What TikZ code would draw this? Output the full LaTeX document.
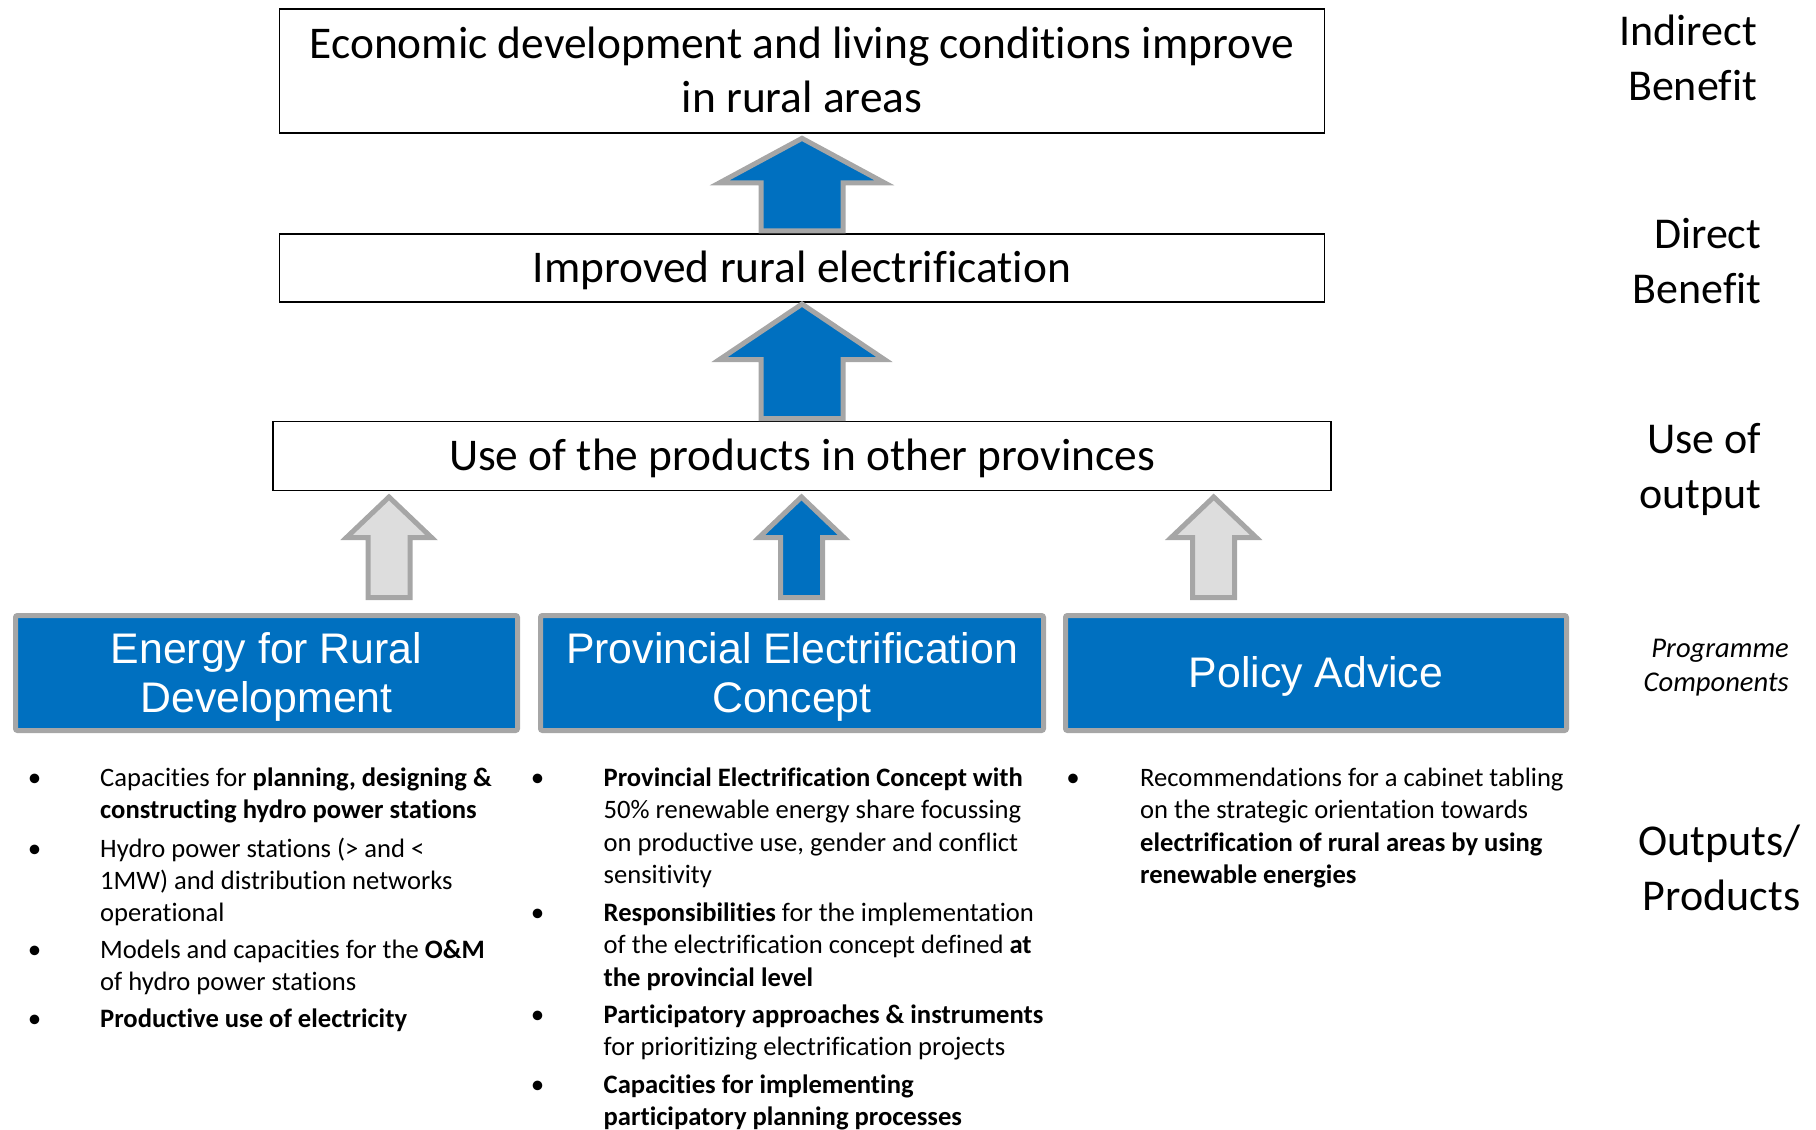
\documentclass[tikz,border=0pt]{standalone}
\usepackage{fontspec}
\setmainfont[Ligatures=NoCommon]{Carlito}
\newfontfamily\arialf{Liberation Sans}
\definecolor{gizblue}{HTML}{0070C0}
\definecolor{arrgray}{HTML}{A6A6A6}
\definecolor{lightgr}{HTML}{DDDDDD}
\newcommand\blockup[6]{%
  \draw[#1] (#2) ++(-#6,0) -- ++(0,-#3+#4) -- ++(-#5+#6,0) -- ++(#5,-#4) -- ++(#5,#4) -- ++(-#5+#6,0) -- ++(0,#3-#4) -- cycle;}
\begin{document}
\begin{tikzpicture}[x=1pt,y=-1pt,
  whitebox/.style={draw=black, line width=1.3pt, fill=white, inner sep=0pt},
  bluebox/.style={draw=arrgray, fill=gizblue, line width=5pt, rounded corners=2pt, inner sep=0pt},
  bluearr/.style={draw=arrgray, fill=gizblue, line width=5pt, line join=miter},
  grayarr/.style={draw=arrgray, fill=lightgr, line width=5pt, line join=miter},
  bigtext/.style={font=\fontsize{45.4}{54.5}\selectfont, inner sep=0pt, anchor=base},
  sidetext/.style={font=\fontsize{44}{55}\selectfont, inner sep=0pt, anchor=base east},
  comptext/.style={font=\arialf\fontsize{42.8}{49.5}\selectfont, text=white, inner sep=0pt, anchor=base},
  itemtext/.style={font=\fontsize{26.6}{32.3}\selectfont, inner sep=0pt, anchor=base west},
  bul/.style={font=\fontsize{27}{32.3}\selectfont, inner sep=0pt, anchor=base}
]
\useasboundingbox (0,0) rectangle (1816,1130);

% result boxes
\node[whitebox, minimum width=1045pt, minimum height=124pt] (b1) at (802,71) {};
\node[whitebox, minimum width=1045pt, minimum height=68pt] (b2) at (802,268) {};
\node[whitebox, minimum width=1058pt, minimum height=69pt] (b3) at (802,456) {};

\node[bigtext] (t1) at (802,58.3) {\parbox[t]{1100pt}{\centering Economic development and living conditions improve\\in rural areas}};
\node[bigtext] (t2) at (802,282.5) {Improved rural electrification};
\node[bigtext] (t3) at (802,470) {Use of the products in other provinces};

% component boxes
\node[bluebox, minimum width=502pt, minimum height=115pt] (c1) at (266.5,673) {};
\node[bluebox, minimum width=503pt, minimum height=115pt] (c2) at (792,673) {};
\node[bluebox, minimum width=501pt, minimum height=115pt] (c3) at (1316,673) {};

\node[comptext] (ct1) at (266.5,663) {\parbox[t]{500pt}{\centering Energy for Rural\\Development}};
\node[comptext] (ct2) at (792,663) {\parbox[t]{500pt}{\centering Provincial Electrification\\Concept}};
\node[comptext] (ct3) at (1316,687.3) {Policy Advice};

% arrows
\coordinate (a1) at ([yshift=2.5pt]b2.north);
\coordinate (a2) at ([yshift=2.3pt]b3.north);
\blockup{bluearr}{a1}{92.5}{44.5}{82.5}{41}
\blockup{bluearr}{a2}{114.5}{55.5}{82.5}{41}
\coordinate (s1) at (389,597.5);
\coordinate (s2) at (801.5,597.5);
\coordinate (s3) at (1213.7,597.5);
\blockup{grayarr}{s1}{100.5}{40.5}{42.5}{21}
\blockup{bluearr}{s2}{100.5}{40.5}{42.5}{21}
\blockup{grayarr}{s3}{100.5}{40.5}{42.5}{21}

% side labels
\node[sidetext] (l1) at (1757,45) {\parbox[t]{300pt}{\raggedleft Indirect\\Benefit}};
\node[sidetext] (l2) at (1761.5,248) {\parbox[t]{300pt}{\raggedleft Direct\\Benefit}};
\node[sidetext] (l3) at (1761.5,453) {\parbox[t]{300pt}{\raggedleft Use of\\output}};
\node[sidetext, font=\itshape\fontsize{28.6}{34}\selectfont] (l4) at (1789,657) {\parbox[t]{300pt}{\raggedleft Programme\\Components}};
\node[sidetext] (l5) at (1800.5,855) {\parbox[t]{300pt}{\raggedleft Outputs/\\Products}};

% left column
\node[bul] (bl1) at (34.5,786) {\textbullet};
\node[itemtext] (il1) at (100,786) {\parbox[t]{470pt}{\raggedright Capacities for \textbf{planning, designing \&}\\\textbf{constructing hydro power stations}}};
\node[bul] (bl2) at (34.5,857) {\textbullet};
\node[itemtext] (il2) at (100,857) {\parbox[t]{470pt}{\raggedright Hydro power stations (> and <\\1MW) and distribution networks\\operational}};
\node[bul] (bl3) at (34.5,958.5) {\textbullet};
\node[itemtext] (il3) at (100,958.5) {\parbox[t]{470pt}{\raggedright Models and capacities for the \textbf{O\&M}\\of hydro power stations}};
\node[bul] (bl4) at (34.5,1027.5) {\textbullet};
\node[itemtext] (il4) at (100,1027.5) {\parbox[t]{470pt}{\raggedright \textbf{Productive use of electricity}}};

% middle column
\node[bul] (bm1) at (537.5,786.5) {\textbullet};
\node[itemtext] (im1) at (603.5,786.5) {\parbox[t]{470pt}{\raggedright \textbf{Provincial Electrification Concept with}\\50\% renewable energy share focussing\\on productive use, gender and conflict\\sensitivity}};
\node[bul] (bm2) at (537.5,921.5) {\textbullet};
\node[itemtext] (im2) at (603.5,921.5) {\parbox[t]{470pt}{\raggedright \textbf{Responsibilities} for the implementation\\of the electrification concept defined \textbf{at}\\\textbf{the provincial level}}};
\node[bul] (bm3) at (537.5,1023) {\textbullet};
\node[itemtext] (im3) at (603.5,1023) {\parbox[t]{470pt}{\raggedright \textbf{Participatory approaches \& instruments}\\for prioritizing electrification projects}};
\node[bul] (bm4) at (537.5,1093) {\textbullet};
\node[itemtext] (im4) at (603.5,1093) {\parbox[t]{470pt}{\raggedright \textbf{Capacities for implementing}\\\textbf{participatory planning processes}}};

% right column
\node[bul] (br1) at (1073,786.5) {\textbullet};
\node[itemtext] (ir1) at (1140,786.5) {\parbox[t]{470pt}{\raggedright Recommendations for a cabinet tabling\\on the strategic orientation towards\\\textbf{electrification of rural areas by using}\\\textbf{renewable energies}}};
\end{tikzpicture}
\end{document}
